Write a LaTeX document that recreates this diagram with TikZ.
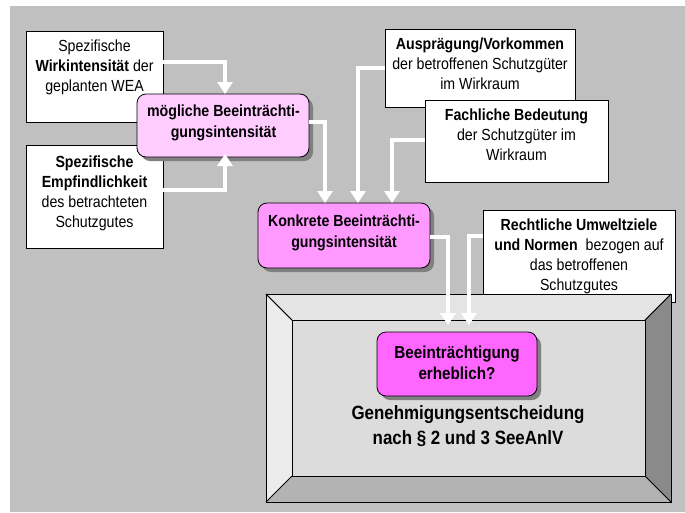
\documentclass[tikz,border=0pt]{standalone}
\usepackage{fontspec}
\setmainfont[FakeStretch=0.88]{Liberation Sans}
\usetikzlibrary{arrows.meta,shadows}
\definecolor{bggray}{HTML}{C0C0C0}
\definecolor{pinkA}{HTML}{FFCCFF}
\definecolor{pinkB}{HTML}{FF99FF}
\definecolor{pinkC}{HTML}{FF66FF}
\definecolor{faceTop}{HTML}{E4E4E4}
\definecolor{faceLeft}{HTML}{ECECEC}
\definecolor{faceRight}{HTML}{8A8A8A}
\definecolor{faceBottom}{HTML}{B3B3B3}
\definecolor{faceInner}{HTML}{DCDCDC}
\begin{document}
\begin{tikzpicture}[x=1pt,y=-1pt,
  wbox/.style={draw=black, line width=0.8pt, fill=white, inner sep=0pt, outer sep=0pt, anchor=north west},
  pbox/.style={draw=black, line width=0.8pt, rounded corners=9pt, inner sep=0pt, outer sep=0pt, anchor=north west,
     drop shadow={shadow xshift=4pt, shadow yshift=-4pt, fill=black!50, opacity=1}},
  frame/.style={inner sep=0pt, outer sep=0pt, anchor=north west},
  txt/.style={font=\fontsize{16.1}{20}\selectfont, align=center, inner sep=0pt},
  ptxt/.style={font=\bfseries\fontsize{16.1}{21}\selectfont, align=center, inner sep=0pt},
  btxt/.style={font=\bfseries\fontsize{19.2}{25}\selectfont, align=center, inner sep=0pt},
  arr/.style={draw=white, line width=4pt, -{Triangle[width=15pt,length=12pt]}}
]
\useasboundingbox (0,0) rectangle (685,512);
\fill[bggray] (10,6) rectangle (685,512);

% white input boxes
\node[wbox, minimum width=137pt, minimum height=91pt] (A) at (26,31) {};
\node[wbox, minimum width=137pt, minimum height=103pt] (B) at (26,145) {};
\node[wbox, minimum width=190pt, minimum height=78pt] (Au) at (385,29) {};
\node[wbox, minimum width=183pt, minimum height=82pt] (F) at (425,100) {};
\node[wbox, minimum width=192pt, minimum height=92pt] (R) at (483,210) {};

% bevelled frame
\node[frame, minimum width=405pt, minimum height=208pt] (Big) at (266,294) {};
\node[frame, minimum width=353pt, minimum height=156pt] (Inner) at (292,320) {};
\fill[faceTop] (Big.north west) -- (Big.north east) -- (Inner.north east) -- (Inner.north west) -- cycle;
\fill[faceLeft] (Big.north west) -- (Inner.north west) -- (Inner.south west) -- (Big.south west) -- cycle;
\fill[faceRight] (Big.north east) -- (Big.south east) -- (Inner.south east) -- (Inner.north east) -- cycle;
\fill[faceBottom] (Big.south west) -- (Big.south east) -- (Inner.south east) -- (Inner.south west) -- cycle;
\fill[faceInner] (Inner.north west) rectangle (Inner.south east);
\draw[line width=1pt] (Big.north west) rectangle (Big.south east);
\draw[line width=1pt] (Inner.north west) rectangle (Inner.south east);
\draw[line width=1pt] (Big.north west) -- (Inner.north west)
  (Big.north east) -- (Inner.north east)
  (Big.south west) -- (Inner.south west)
  (Big.south east) -- (Inner.south east);

% pink boxes
\node[pbox, fill=pinkA, minimum width=172pt, minimum height=63pt] (M) at (137,94) {};
\node[pbox, fill=pinkB, minimum width=172pt, minimum height=65pt] (K) at (258,203) {};
\node[pbox, fill=pinkC, minimum width=160pt, minimum height=64pt] (E) at (377,332) {};

% texts
\node[txt] (tA) at (94.5,67.5) {Spezifische\\\textbf{Wirkintensität} der\\geplanten WEA};
\node[txt] (tB) at (94.5,193) {\textbf{Spezifische}\\\textbf{Empfindlichkeit}\\des betrachteten\\Schutzgutes};
\node[txt] (tAu) at (480,64) {\textbf{Ausprägung/Vorkommen}\\der betroffenen Schutzgüter\\im Wirkraum};
\node[txt] (tF) at (516.5,135) {\textbf{Fachliche Bedeutung}\\der Schutzgüter im\\Wirkraum};
\node[txt] (tR) at (579,256) {\textbf{Rechtliche Umweltziele}\\\textbf{und Normen}\ \ bezogen auf\\das betroffenen\\Schutzgutes};
\node[ptxt] (tM) at (223.5,123) {mögliche Beeinträchti-\\gungsintensität};
\node[ptxt] (tK) at (344,232.5) {Konkrete Beeinträchti-\\gungsintensität};
\node[ptxt, font=\bfseries\fontsize{17.3}{21}\selectfont] (tE) at (457,363) {Beeinträchtigung\\erheblich?};
\node[btxt] (tG) at (468,426) {Genehmigungsentscheidung\\nach § 2 und 3 SeeAnlV};

% the tail of the Rechtliche text is hidden by the frame top
\fill[faceTop] (Big.north west) -- (Big.north east) -- (Inner.north east) -- (Inner.north west) -- cycle;
\draw[line width=1pt] (Big.north west) -- (Big.north east);
\draw[line width=1pt] (Big.north west) -- (Inner.north west) (Big.north east) -- (Inner.north east);
\draw[line width=1pt] (Inner.north west) -- (Inner.north east);

% connectors
\draw[arr] (A.east |- 0,62) -| (M.north -| 225,0);
\draw[arr, shorten >=-3pt] (B.east |- 0,190) -| (M.south -| 225,0);
\draw[arr] (M.east |- 0,122) -| (K.north -| 325,0);
\draw[arr] (Au.west) -| (K.north -| 358,0);
\draw[arr] (F.west |- 0,140) -| (K.north -| 392,0);
\draw[arr, shorten >=7pt] (K.east |- 0,237) -| (E.north -| 448,0);
\draw[arr, shorten >=7pt] (R.west |- 0,236) -| (E.north -| 469,0);
\end{tikzpicture}
\end{document}
